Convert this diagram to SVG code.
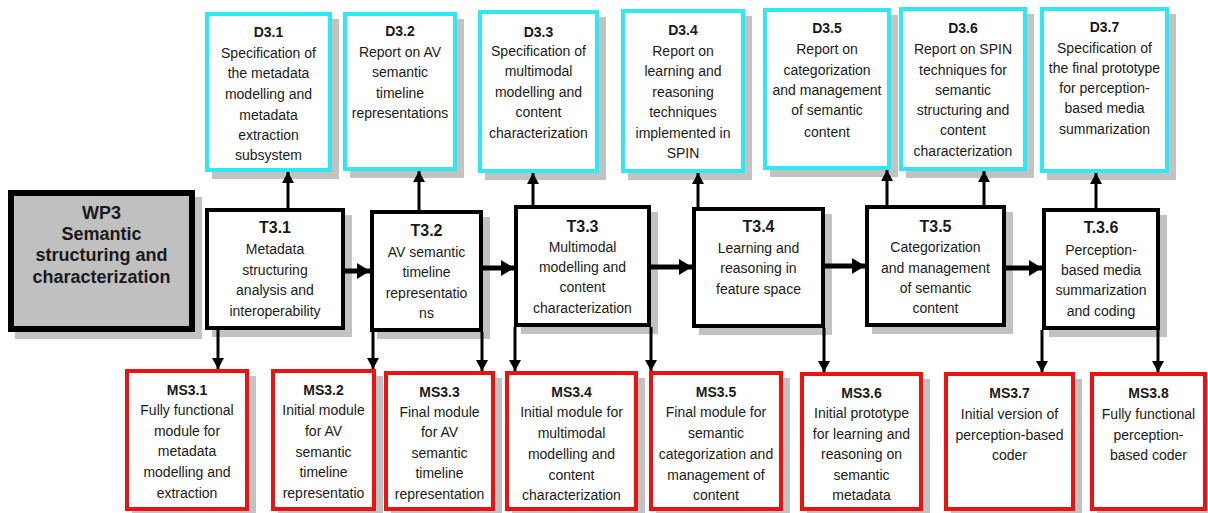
<svg xmlns="http://www.w3.org/2000/svg" width="1208" height="513" viewBox="0 0 1208 513">
  <style>
    .shadow { fill: #c2c2c2; }
    .del { fill: #ffffff; stroke: #2ee8f2; stroke-width: 4; }
    .task { fill: #ffffff; stroke: #000000; stroke-width: 4; }
    .wp { fill: #c0c0c0; stroke: #000000; stroke-width: 6; }
    .ms { fill: #ffffff; stroke: #ee1111; stroke-width: 4; }
    text { font-family: "Liberation Sans", Arial, sans-serif; font-size: 14px; fill: #1a1a1a; text-anchor: middle; }
    .t { font-weight: bold; }
    .tt { font-weight: bold; font-size: 16px; }
    .wt { font-weight: bold; font-size: 18px; }
    .conn line { stroke: #000000; }
    .h { stroke-width: 5; marker-end: url(#headL); }
    .v { stroke-width: 3; marker-end: url(#headS); }
  </style>
  <defs>
    <marker id="headL" markerUnits="userSpaceOnUse" markerWidth="14" markerHeight="16" refX="13" refY="8" orient="auto">
      <path d="M0,0 L13,8 L0,16 z" fill="#000"/>
    </marker>
    <marker id="headS" markerUnits="userSpaceOnUse" markerWidth="12" markerHeight="12" refX="11" refY="6" orient="auto">
      <path d="M0,0 L11,6 L0,12 z" fill="#000"/>
    </marker>
  </defs>
  <rect width="1208" height="513" fill="#ffffff"/>

  <!-- work package -->
  <g id="wp3">
    <rect class="shadow" x="15" y="197" width="187" height="142"/>
    <rect class="wp" x="11" y="193" width="181" height="136"/>
    <text class="wt" x="101.5" y="219">WP3</text>
    <text class="wt" x="101.5" y="240">Semantic</text>
    <text class="wt" x="101.5" y="261">structuring and</text>
    <text class="wt" x="101.5" y="283">characterization</text>
  </g>

  <!-- deliverables -->
  <g id="d31">
    <rect class="shadow" x="212" y="19" width="127" height="160"/>
    <rect class="del" x="207" y="14" width="123" height="156"/>
    <text class="t" x="268.5" y="37">D3.1</text>
    <text x="268.5" y="58">Specification of</text>
    <text x="268.5" y="78">the metadata</text>
    <text x="268.5" y="99">modelling and</text>
    <text x="268.5" y="120">metadata</text>
    <text x="268.5" y="140">extraction</text>
    <text x="268.5" y="160">subsystem</text>
  </g>
  <g id="d32">
    <rect class="shadow" x="350" y="19" width="114" height="159"/>
    <rect class="del" x="345" y="14" width="110" height="155"/>
    <text class="t" x="400" y="36">D3.2</text>
    <text x="400" y="57">Report on AV</text>
    <text x="400" y="77">semantic</text>
    <text x="400" y="98">timeline</text>
    <text x="400" y="118">representations</text>
  </g>
  <g id="d33">
    <rect class="shadow" x="485" y="17" width="121" height="163"/>
    <rect class="del" x="480" y="12" width="117" height="159"/>
    <text class="t" x="538.5" y="37">D3.3</text>
    <text x="538.5" y="56">Specification of</text>
    <text x="538.5" y="76">multimodal</text>
    <text x="538.5" y="97">modelling and</text>
    <text x="538.5" y="117">content</text>
    <text x="538.5" y="138">characterization</text>
  </g>
  <g id="d34">
    <rect class="shadow" x="628" y="16" width="124" height="164"/>
    <rect class="del" x="623" y="11" width="120" height="160"/>
    <text class="t" x="683" y="35">D3.4</text>
    <text x="683" y="56">Report on</text>
    <text x="683" y="76">learning and</text>
    <text x="683" y="97">reasoning</text>
    <text x="683" y="117">techniques</text>
    <text x="683" y="138">implemented in</text>
    <text x="683" y="158">SPIN</text>
  </g>
  <g id="d35">
    <rect class="shadow" x="770" y="15" width="128" height="162"/>
    <rect class="del" x="765" y="10" width="124" height="158"/>
    <text class="t" x="827" y="33">D3.5</text>
    <text x="827" y="54">Report on</text>
    <text x="827" y="75">categorization</text>
    <text x="827" y="95">and management</text>
    <text x="827" y="115">of semantic</text>
    <text x="827" y="137">content</text>
  </g>
  <g id="d36">
    <rect class="shadow" x="906" y="14" width="128" height="164"/>
    <rect class="del" x="901" y="9" width="124" height="160"/>
    <text class="t" x="963" y="33">D3.6</text>
    <text x="963" y="54">Report on SPIN</text>
    <text x="963" y="75">techniques for</text>
    <text x="963" y="95">semantic</text>
    <text x="963" y="115">structuring and</text>
    <text x="963" y="135">content</text>
    <text x="963" y="156">characterization</text>
  </g>
  <g id="d37">
    <rect class="shadow" x="1047" y="14" width="129" height="166"/>
    <rect class="del" x="1042" y="9" width="125" height="162"/>
    <text class="t" x="1104.5" y="32">D3.7</text>
    <text x="1104.5" y="53">Specification of</text>
    <text x="1104.5" y="73">the final prototype</text>
    <text x="1104.5" y="93">for perception-</text>
    <text x="1104.5" y="113">based media</text>
    <text x="1104.5" y="134">summarization</text>
  </g>

  <!-- tasks -->
  <g id="t31">
    <rect class="shadow" x="212" y="215" width="140" height="122"/>
    <rect class="task" x="207" y="210" width="136" height="118"/>
    <text class="tt" x="275" y="233">T3.1</text>
    <text x="275" y="254">Metadata</text>
    <text x="275" y="275">structuring</text>
    <text x="275" y="295">analysis and</text>
    <text x="275" y="316">interoperability</text>
  </g>
  <g id="t32">
    <rect class="shadow" x="377" y="217" width="113" height="122"/>
    <rect class="task" x="372" y="212" width="109" height="118"/>
    <text class="tt" x="426.5" y="236">T3.2</text>
    <text x="426.5" y="257">AV semantic</text>
    <text x="426.5" y="277">timeline</text>
    <text x="426.5" y="298">representatio</text>
    <text x="426.5" y="318">ns</text>
  </g>
  <g id="t33">
    <rect class="shadow" x="521" y="212" width="137" height="122"/>
    <rect class="task" x="516" y="207" width="133" height="118"/>
    <text class="tt" x="582.5" y="232">T3.3</text>
    <text x="582.5" y="252">Multimodal</text>
    <text x="582.5" y="272">modelling and</text>
    <text x="582.5" y="292">content</text>
    <text x="582.5" y="313">characterization</text>
  </g>
  <g id="t34">
    <rect class="shadow" x="699" y="214" width="133" height="121"/>
    <rect class="task" x="694" y="209" width="129" height="117"/>
    <text class="tt" x="758.5" y="232">T3.4</text>
    <text x="758.5" y="253">Learning and</text>
    <text x="758.5" y="273">reasoning in</text>
    <text x="758.5" y="294">feature space</text>
  </g>
  <g id="t35">
    <rect class="shadow" x="872" y="212" width="141" height="122"/>
    <rect class="task" x="867" y="207" width="137" height="118"/>
    <text class="tt" x="935.5" y="232">T3.5</text>
    <text x="935.5" y="252">Categorization</text>
    <text x="935.5" y="273">and management</text>
    <text x="935.5" y="293">of semantic</text>
    <text x="935.5" y="313">content</text>
  </g>
  <g id="t36">
    <rect class="shadow" x="1049" y="215" width="118" height="122"/>
    <rect class="task" x="1044" y="210" width="114" height="118"/>
    <text class="tt" x="1101" y="233">T.3.6</text>
    <text x="1101" y="255">Perception-</text>
    <text x="1101" y="275">based media</text>
    <text x="1101" y="295">summarization</text>
    <text x="1101" y="316">and coding</text>
  </g>

  <!-- milestones -->
  <g id="ms31">
    <rect class="shadow" x="132" y="376" width="124" height="142"/>
    <rect class="ms" x="127" y="371" width="120" height="138"/>
    <text class="t" x="187" y="395">MS3.1</text>
    <text x="187" y="415">Fully functional</text>
    <text x="187" y="436">module for</text>
    <text x="187" y="456">metadata</text>
    <text x="187" y="477">modelling and</text>
    <text x="187" y="498">extraction</text>
  </g>
  <g id="ms32">
    <rect class="shadow" x="278" y="376" width="105" height="142"/>
    <rect class="ms" x="273" y="371" width="101" height="138"/>
    <text class="t" x="323.5" y="395">MS3.2</text>
    <text x="323.5" y="415">Initial module</text>
    <text x="323.5" y="436">for AV</text>
    <text x="323.5" y="457">semantic</text>
    <text x="323.5" y="477">timeline</text>
    <text x="323.5" y="498">representatio</text>
  </g>
  <g id="ms33">
    <rect class="shadow" x="391" y="378" width="111" height="140"/>
    <rect class="ms" x="386" y="373" width="107" height="136"/>
    <text class="t" x="439.5" y="397">MS3.3</text>
    <text x="439.5" y="417">Final module</text>
    <text x="439.5" y="437">for AV</text>
    <text x="439.5" y="458">semantic</text>
    <text x="439.5" y="478">timeline</text>
    <text x="439.5" y="499">representation</text>
  </g>
  <g id="ms34">
    <rect class="shadow" x="512" y="378" width="133" height="140"/>
    <rect class="ms" x="507" y="373" width="129" height="136"/>
    <text class="t" x="571.5" y="397">MS3.4</text>
    <text x="571.5" y="417">Initial module for</text>
    <text x="571.5" y="438">multimodal</text>
    <text x="571.5" y="459">modelling and</text>
    <text x="571.5" y="480">content</text>
    <text x="571.5" y="500">characterization</text>
  </g>
  <g id="ms35">
    <rect class="shadow" x="656" y="378" width="134" height="140"/>
    <rect class="ms" x="651" y="373" width="130" height="136"/>
    <text class="t" x="716" y="397">MS3.5</text>
    <text x="716" y="417">Final module for</text>
    <text x="716" y="438">semantic</text>
    <text x="716" y="459">categorization and</text>
    <text x="716" y="480">management of</text>
    <text x="716" y="500">content</text>
  </g>
  <g id="ms36">
    <rect class="shadow" x="807" y="379" width="123" height="139"/>
    <rect class="ms" x="802" y="374" width="119" height="135"/>
    <text class="t" x="861.5" y="398">MS3.6</text>
    <text x="861.5" y="418">Initial prototype</text>
    <text x="861.5" y="439">for learning and</text>
    <text x="861.5" y="459">reasoning on</text>
    <text x="861.5" y="480">semantic</text>
    <text x="861.5" y="500">metadata</text>
  </g>
  <g id="ms37">
    <rect class="shadow" x="951" y="379" width="131" height="139"/>
    <rect class="ms" x="946" y="374" width="127" height="135"/>
    <text class="t" x="1009.5" y="398">MS3.7</text>
    <text x="1009.5" y="419">Initial version of</text>
    <text x="1009.5" y="440">perception-based</text>
    <text x="1009.5" y="460">coder</text>
  </g>
  <g id="ms38">
    <rect class="shadow" x="1097" y="379" width="117" height="139"/>
    <rect class="ms" x="1092" y="374" width="113" height="135"/>
    <text class="t" x="1148.5" y="398">MS3.8</text>
    <text x="1148.5" y="419">Fully functional</text>
    <text x="1148.5" y="440">perception-</text>
    <text x="1148.5" y="460">based coder</text>
  </g>

  <!-- connectors -->
  <g id="connectors" class="conn">
    <!-- task sequence -->
    <line class="h" x1="345" y1="271" x2="370" y2="271"/>
    <line class="h" x1="483" y1="268" x2="514" y2="268"/>
    <line class="h" x1="651" y1="267" x2="692" y2="267"/>
    <line class="h" x1="825" y1="266" x2="865" y2="266"/>
    <line class="h" x1="1006" y1="268" x2="1042" y2="268"/>
    <!-- tasks to deliverables -->
    <line class="v" x1="288" y1="208" x2="288" y2="172"/>
    <line class="v" x1="419" y1="210" x2="419" y2="171"/>
    <line class="v" x1="533" y1="205" x2="533" y2="173"/>
    <line class="v" x1="698" y1="207" x2="698" y2="173"/>
    <line class="v" x1="887" y1="205" x2="887" y2="170"/>
    <line class="v" x1="984" y1="205" x2="984" y2="171"/>
    <line class="v" x1="1096" y1="208" x2="1096" y2="173"/>
    <!-- tasks to milestones -->
    <line class="v" x1="218" y1="330" x2="218" y2="369"/>
    <line class="v" x1="373" y1="332" x2="373" y2="369"/>
    <line class="v" x1="482" y1="332" x2="482" y2="371"/>
    <line class="v" x1="515" y1="327" x2="515" y2="371"/>
    <line class="v" x1="651" y1="327" x2="651" y2="371"/>
    <line class="v" x1="824" y1="328" x2="824" y2="372"/>
    <line class="v" x1="1042" y1="330" x2="1042" y2="372"/>
    <line class="v" x1="1158" y1="330" x2="1158" y2="372"/>
  </g>
</svg>
